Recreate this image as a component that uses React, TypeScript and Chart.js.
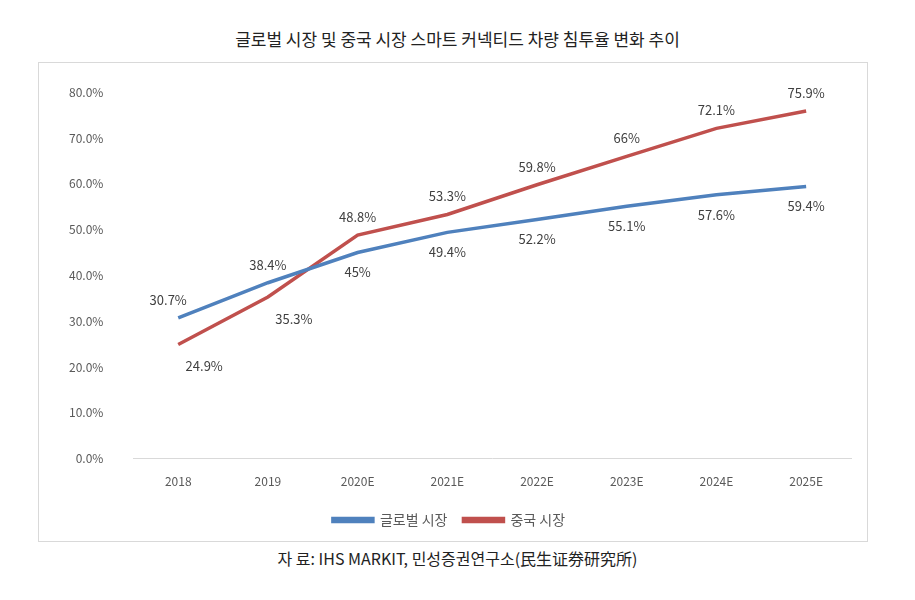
import React, { useEffect, useRef } from "react";
import { Chart, registerables } from "chart.js";
Chart.register(...registerables);

const categories = ["2018", "2019", "2020E", "2021E", "2022E", "2023E", "2024E", "2025E"];
const globalValues = [30.7, 38.4, 45, 49.4, 52.2, 55.1, 57.6, 59.4];
const chinaValues = [24.9, 35.3, 48.8, 53.3, 59.8, 66, 72.1, 75.9];
const globalLabels = ["30.7%", "38.4%", "45%", "49.4%", "52.2%", "55.1%", "57.6%", "59.4%"];
const chinaLabels = ["24.9%", "35.3%", "48.8%", "53.3%", "59.8%", "66%", "72.1%", "75.9%"];
// label placement: [dx, dy]
const globalPos = [[-10, -18], [0, -18], [0, 20], [0, 20], [0, 20], [0, 20], [0, 20], [0, 20]];
const chinaPos = [[26, 22], [26, 22], [0, -18], [0, -18], [0, -18], [0, -18], [0, -18], [0, -18]];

const FONT = "'Noto Sans CJK KR', 'Noto Sans', sans-serif";

const labelPlugin = {
  id: "pointLabels",
  afterDatasetsDraw(chart: any) {
    const ctx = chart.ctx;
    ctx.save();
    ctx.font = `13px ${FONT}`;
    ctx.fillStyle = "#404040";
    ctx.textAlign = "center";
    ctx.textBaseline = "middle";
    const sets = [
      { labels: globalLabels, pos: globalPos },
      { labels: chinaLabels, pos: chinaPos },
    ];
    sets.forEach((s, di) => {
      chart.getDatasetMeta(di).data.forEach((pt: any, i: number) => {
        ctx.fillText(s.labels[i], pt.x + s.pos[i][0], pt.y + s.pos[i][1]);
      });
    });
    ctx.restore();
  },
};

export default function App() {
  const ref = useRef<HTMLCanvasElement>(null);
  useEffect(() => {
    const chart = new Chart(ref.current!, {
      type: "line",
      data: {
        labels: categories,
        datasets: [
          { label: "글로벌 시장", data: globalValues, borderColor: "#4f81bd", backgroundColor: "#4f81bd", borderWidth: 3.5, pointRadius: 0, tension: 0 },
          { label: "중국 시장", data: chinaValues, borderColor: "#c0504d", backgroundColor: "#c0504d", borderWidth: 3.5, pointRadius: 0, tension: 0 },
        ],
      },
      options: {
        animation: false,
        responsive: false,
        layout: { padding: { left: 8, right: 16, top: 21, bottom: 4 } },
        plugins: {
          legend: {
            position: "bottom",
            labels: {
              font: { family: FONT, size: 14 },
              color: "#595959",
              boxWidth: 40,
              boxHeight: 3,
              padding: 16,
            },
          },
          tooltip: { enabled: false },
        },
        scales: {
          x: {
            offset: true,
            grid: { display: false },
            border: { color: "#d9d9d9" },
            ticks: { font: { family: FONT, size: 12 }, color: "#595959", padding: 8 },
          },
          y: {
            min: 0,
            max: 80,
            ticks: {
              stepSize: 10,
              font: { family: FONT, size: 12 },
              color: "#595959",
              padding: 22,
              callback: (v: any) => Number(v).toFixed(1) + "%",
            },
            grid: { display: false },
            border: { display: false },
          },
        },
      },
      plugins: [labelPlugin],
    });
    return () => chart.destroy();
  }, []);
  return (
    <div style={{ width: 899, fontFamily: FONT }}>
      <div style={{ textAlign: "center", fontSize: 17, color: "#222", marginTop: 18, height: 36 }}>
        글로벌 시장 및 중국 시장 스마트 커넥티드 차량 침투율 변화 추이
      </div>
      <div style={{ marginLeft: 30, width: 828, height: 478, border: "1px solid #d9d9d9" }}>
        <canvas ref={ref} width={828} height={478} />
      </div>
      <div style={{ textAlign: "center", fontSize: 16, color: "#222", marginTop: 4 }}>
        자 료: IHS MARKIT, 민성증권연구소(民生证券研究所)
      </div>
    </div>
  );
}
